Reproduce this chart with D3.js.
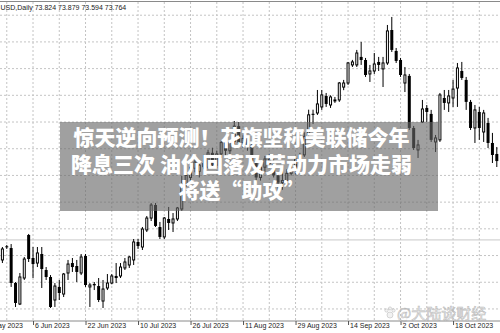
<!DOCTYPE html>
<meta charset="utf-8">
<style>
body { margin: 0; background: #fff; }
#box1 { width: 500px; height: 333px; overflow: hidden; }
</style>
<body>
  <div id="box1"></div>
</body>
<script src="https://d3js.org/d3.v7.min.js"></script>
<script>

width = 500;
height = 333;

// daily bars, 26 May 2023 .. 1 Nov 2023, one per weekday
opens = [71.37, 72.70, 72.53, 69.13, 67.08, 69.61, 73.80, 71.56, 71.07, 71.95,
  70.39, 69.71, 67.47, 68.74, 68.05, 70.10, 71.07, 70.78, 70.10, 71.76,
  68.74, 69.03, 68.83, 67.37, 68.64, 69.12, 69.81, 69.81, 70.59, 70.88,
  71.37, 73.12, 72.63, 74.29, 75.45, 76.72, 74.58, 73.61, 75.36, 74.97,
  75.36, 76.33, 78.80, 79.40, 80.30, 80.00, 80.80, 80.40, 81.80, 80.60,
  81.70, 82.80, 82.00, 82.90, 84.40, 82.80, 83.20, 82.50, 81.00, 79.40,
  80.40, 81.20, 80.70, 79.60, 78.90, 79.10, 79.80, 80.10, 81.20, 81.60,
  83.60, 85.60, 85.68, 86.27, 87.34, 86.46, 86.90, 86.95, 88.20, 88.60,
  90.36, 90.36, 91.14, 90.84, 89.48, 89.77, 90.65, 89.97, 90.55, 93.76,
  91.72, 90.84, 88.60, 89.29, 84.22, 82.08, 84.80, 86.17, 85.59, 82.86,
  83.06, 87.14, 86.66, 87.14, 88.11, 89.77, 88.90, 86.76, 84.22, 85.78,
  83.83, 84.71, 82.76, 81.69]
highs = [72.63, 72.83, 72.92, 69.22, 70.10, 71.66, 73.90, 72.63, 72.63, 72.63,
  70.68, 69.90, 69.12, 69.42, 70.10, 71.37, 71.56, 71.37, 71.95, 71.95,
  69.12, 69.22, 69.61, 69.42, 70.00, 70.00, 71.07, 71.07, 71.56, 71.76,
  73.41, 73.41, 74.58, 75.65, 76.92, 76.92, 75.07, 75.55, 76.53, 75.94,
  76.53, 79.55, 79.90, 80.70, 81.10, 80.90, 81.60, 82.10, 82.30, 82.00,
  83.00, 83.00, 83.00, 84.90, 84.80, 83.50, 83.40, 82.70, 81.30, 80.60,
  81.50, 81.70, 81.20, 79.90, 80.00, 80.20, 80.60, 81.50, 81.80, 83.80,
  86.00, 86.00, 87.92, 87.92, 87.63, 87.40, 87.24, 88.70, 88.90, 90.65,
  90.85, 91.82, 92.60, 91.04, 90.36, 91.52, 91.14, 91.14, 94.25, 95.03,
  92.01, 91.04, 90.16, 89.48, 84.42, 83.06, 86.95, 86.46, 85.98, 83.54,
  87.63, 87.92, 87.92, 88.90, 90.55, 90.65, 89.19, 86.95, 86.46, 86.27,
  85.98, 85.20, 83.74, 82.37]
lows = [71.07, 72.44, 68.74, 66.79, 66.98, 69.42, 71.17, 69.61, 70.68, 68.64,
  69.42, 66.69, 66.79, 67.47, 67.76, 69.42, 70.20, 69.22, 69.90, 68.74,
  66.79, 68.44, 67.27, 66.69, 68.44, 69.00, 69.12, 69.61, 70.39, 70.59,
  70.88, 72.44, 72.34, 74.09, 75.16, 74.58, 73.41, 73.41, 74.29, 74.09,
  75.16, 76.14, 78.50, 79.00, 79.90, 79.40, 80.20, 80.20, 80.30, 80.30,
  81.30, 81.50, 80.90, 82.60, 82.50, 82.30, 82.00, 80.60, 79.00, 79.10,
  79.90, 80.30, 79.40, 77.60, 78.20, 78.80, 79.60, 79.70, 80.90, 81.40,
  83.40, 84.60, 85.49, 85.98, 86.27, 86.17, 86.66, 86.76, 87.90, 88.41,
  90.16, 90.16, 90.36, 89.19, 88.70, 89.48, 89.77, 88.21, 90.36, 91.62,
  90.55, 89.19, 87.72, 84.03, 82.08, 81.30, 84.70, 84.80, 82.86, 81.88,
  82.86, 85.98, 85.78, 86.27, 86.27, 88.90, 85.98, 84.03, 82.76, 83.06,
  82.86, 82.27, 80.81, 80.42]
closes = [72.44, 72.60, 69.13, 67.18, 69.71, 71.46, 71.46, 70.97, 72.05, 70.49,
  69.71, 66.79, 68.83, 68.15, 70.00, 70.97, 70.68, 70.20, 71.66, 68.93,
  68.93, 68.90, 67.47, 68.54, 69.12, 69.81, 69.61, 70.68, 71.17, 71.66,
  73.12, 72.73, 74.38, 75.45, 76.72, 74.68, 73.61, 75.45, 74.97, 75.36,
  76.43, 78.77, 79.60, 80.40, 80.90, 80.60, 80.40, 81.80, 80.60, 81.70,
  82.80, 82.00, 82.90, 84.40, 82.80, 83.20, 82.50, 81.00, 79.40, 80.40,
  81.20, 80.70, 79.60, 78.90, 79.10, 79.80, 80.10, 81.20, 81.60, 83.40,
  85.50, 85.50, 86.56, 87.44, 86.56, 87.24, 86.95, 88.60, 88.60, 90.55,
  90.65, 91.52, 90.84, 89.38, 89.77, 90.45, 90.36, 90.55, 93.67, 91.82,
  90.75, 89.38, 89.38, 84.22, 82.27, 82.57, 86.07, 85.78, 83.06, 83.25,
  87.44, 86.66, 87.34, 88.01, 90.06, 89.09, 86.76, 84.22, 85.98, 84.22,
  85.68, 82.76, 81.59, 81.00]

tickBars = [-5, 7, 19, 31, 43, 55, 67, 79, 91, 103]
tickLabels = ["19 May 2023", "6 Jun 2023", "22 Jun 2023", "10 Jul 2023", "26 Jul 2023",
  "11 Aug 2023", "29 Aug 2023", "14 Sep 2023", "2 Oct 2023", "18 Oct 2023"]

gridPrices = [66.6, 69.2, 71.8, 74.4, 77.0, 79.6, 82.2, 84.8, 87.4, 90.0, 92.6, 95.2]
bidPrice = 73.32

headerText = "USD,Daily 73.824 73.879 73.594 73.764"
titleLines = ["惊天逆向预测！花旗坚称美联储今年", "降息三次 油价回落及劳动力市场走弱", "将送“助攻”"]
watermarkText = "@大陆谈财经"

data = opens.map((o, i) => ({i: i, open: o, high: highs[i], low: lows[i], close: closes[i]}))

axisY = 321;

xScale = d3.scaleLinear([0, 113], [2.4, 496.8])
yScale = d3.scaleLinear([66, 96], [315.1, 7.0])

var svg = d3.select("#box1").append("svg")
    .attr("width", width)
    .attr("height", height)

svg.append("rect").attr("width", width).attr("height", height).attr("fill", "#fff")

// dotted grid
svg.append("g")
  .selectAll("line")
  .data(gridPrices)
  .join("line")
    .attr("x1", 0).attr("x2", width)
    .attr("y1", d => yScale(d)).attr("y2", d => yScale(d))
    .attr("stroke", "#c4c4c4")
    .attr("stroke-dasharray", "2,2")

svg.append("g")
  .selectAll("line")
  .data(d3.range(1, 114, 6))
  .join("line")
    .attr("x1", d => xScale(d)).attr("x2", d => xScale(d))
    .attr("y1", 2).attr("y2", axisY)
    .attr("stroke", "#c4c4c4")
    .attr("stroke-dasharray", "2,2")

// bid line
svg.append("line")
  .attr("x1", 0).attr("x2", width)
  .attr("y1", yScale(bidPrice)).attr("y2", yScale(bidPrice))
  .attr("stroke", "#c8c8c8")

// candles
candles = svg.append("g")
  .selectAll("g")
  .data(data)
  .join("g")

candles.append("line")
  .attr("x1", d => xScale(d.i)).attr("x2", d => xScale(d.i))
  .attr("y1", d => yScale(d.high)).attr("y2", d => yScale(d.low))
  .attr("stroke", "#000")

candles.append("rect")
  .attr("x", d => d.close >= d.open ? xScale(d.i) - 1 : xScale(d.i) - 1.5)
  .attr("width", d => d.close >= d.open ? 2 : 3)
  .attr("y", d => yScale(Math.max(d.open, d.close)))
  .attr("height", d => Math.max(1, Math.abs(yScale(d.open) - yScale(d.close))))
  .attr("fill", d => d.close >= d.open ? "#fff" : "#000")
  .attr("stroke", d => d.close >= d.open ? "#000" : "none")
  .attr("stroke-width", 1)

// frame + time axis
svg.append("line")
  .attr("x1", 0).attr("x2", width).attr("y1", 1.5).attr("y2", 1.5)
  .attr("stroke", "#8a8a8a")

svg.append("line")
  .attr("x1", 0).attr("x2", width).attr("y1", axisY).attr("y2", axisY)
  .attr("stroke", "#8a8a8a")

xAxis = d3.axisBottom(xScale)
  .tickValues(tickBars)
  .tickFormat((d, i) => tickLabels[i])
  .tickSize(4)
  .tickSizeOuter(0)

gx = svg.append("g")
  .attr("transform", "translate(0," + axisY + ")")
  .call(xAxis)
gx.select(".domain").remove()
gx.selectAll(".tick line").attr("stroke", "#555")
gx.selectAll(".tick text")
  .attr("text-anchor", "start")
  .attr("x", 1.5)
  .attr("y", 2)
  .style("font-family", "'Liberation Sans', Arial, sans-serif")
  .style("font-size", "7px")
  .attr("fill", "#222")

svg.append("text")
  .attr("x", 0.5)
  .attr("y", 9.5)
  .text(headerText)
  .style("font-family", "'Liberation Sans', Arial, sans-serif")
  .style("font-size", "7px")
  .attr("fill", "#222")

// headline overlay
svg.append("rect")
  .attr("x", 60).attr("y", 122)
  .attr("width", 378).attr("height", 89)
  .attr("fill", "#666")
  .attr("fill-opacity", 0.62)

svg.append("g")
  .selectAll("text")
  .data(titleLines)
  .join("text")
    .attr("x", 241.5)
    .attr("y", (d, i) => 145 + i * 26.5)
    .attr("text-anchor", "middle")
    .style("font-family", "'Noto Sans CJK SC', sans-serif")
    .style("font-weight", 900)
    .style("font-size", "21px")
    .attr("fill", "#fff")
    .text(d => d)

// watermark
wm = svg.append("g").attr("opacity", 0.75)
wm.selectAll("circle")
  .data([[386.5, 310.5, 1.6], [390, 308.5, 1.6], [393.5, 310.5, 1.6], [390, 315, 3]])
  .join("circle")
    .attr("cx", d => d[0]).attr("cy", d => d[1]).attr("r", d => d[2])
    .attr("fill", "#eee").attr("stroke", "#aaa").attr("stroke-width", 0.6)
wm.append("text")
  .attr("x", 397)
  .attr("y", 319)
  .text(watermarkText)
  .style("font-family", "'Noto Sans CJK SC', sans-serif")
  .style("font-size", "15px")
  .attr("fill", "#eee")
  .attr("stroke", "#a8a8a8")
  .attr("stroke-width", 0.6)

</script>
